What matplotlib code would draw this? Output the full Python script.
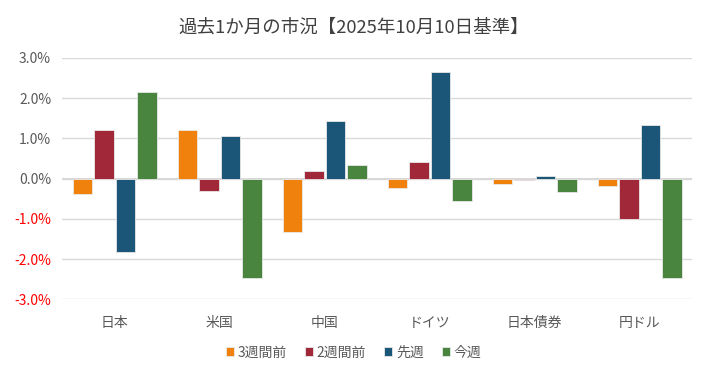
import matplotlib.pyplot as plt
import numpy as np

plt.rcParams['font.family'] = ['Noto Sans CJK JP', 'DejaVu Sans']

# データ（%）
categories = ['日本', '米国', '中国', 'ドイツ', '日本債券', '円ドル']
series = ['3週間前', '2週間前', '先週', '今週']
w3 = [-0.39, 1.20, -1.33, -0.24, -0.14, -0.19]
w2 = [1.22, -0.30, 0.19, 0.42, -0.03, -1.00]
w1 = [-1.83, 1.07, 1.42, 2.66, 0.06, 1.34]
w0 = [2.16, -2.47, 0.35, -0.56, -0.34, -2.46]
yticks = [-3, -2, -1, 0, 1, 2, 3]

colors = ['#F0810C', '#A02838', '#1B5679', '#4A8540']
values = [w3, w2, w1, w0]

fig = plt.figure(figsize=(7.07, 3.76), dpi=100)
ax = fig.add_axes([0.088, 0.204, 0.891, 0.642])

x = np.arange(len(categories))
width = 0.185
for i, (vals, c, name) in enumerate(zip(values, colors, series)):
    ax.bar(x + (i - 1.5) * 0.205, vals, width, color=c, label=name,
           edgecolor='#E8E8E8', linewidth=0.6, zorder=3)

ax.set_xlim(-0.5, len(categories) - 0.5)
ax.set_ylim(-3, 3)
ax.set_yticks(yticks)
ax.set_yticklabels([f'{v:.1f}%' for v in yticks])
for lab, v in zip(ax.get_yticklabels(), yticks):
    lab.set_color('#FF0000' if v < 0 else '#595959')
ax.set_xticks(x)
ax.set_xticklabels(categories, color='#595959')
ax.tick_params(axis='both', length=0, labelsize=10)
ax.tick_params(axis='x', pad=12)
ax.tick_params(axis='y', pad=8)

ax.grid(axis='y', color='#D9D9D9', linewidth=1, zorder=0)
ax.axhline(0, color='#D0D0D0', linewidth=1.2, zorder=1)
for s in ax.spines.values():
    s.set_visible(False)

fig.suptitle('過去1か月の市況【2025年10月10日基準】', y=0.95, fontsize=13.3, color='#404040')
fig.legend(loc='lower center', ncol=4, frameon=False, fontsize=10,
           handlelength=0.6, handleheight=0.6, handletextpad=0.25, columnspacing=1.3,
           bbox_to_anchor=(0.5, 0.01), labelcolor='#595959')

fig.savefig('out.png', dpi=100)
